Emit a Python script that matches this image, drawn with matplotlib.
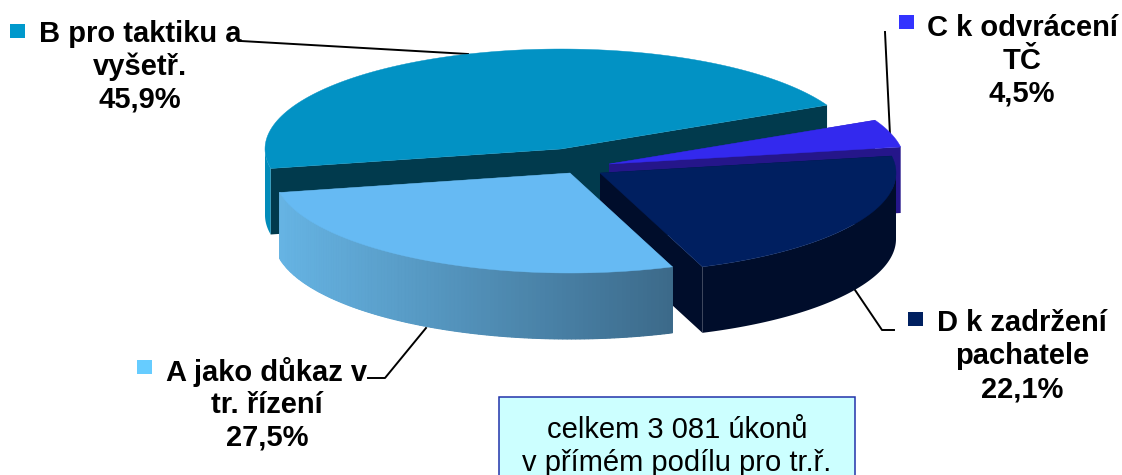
import numpy as np
import matplotlib
matplotlib.use("Agg")
import matplotlib.pyplot as plt
from matplotlib.patches import Polygon, Rectangle
from matplotlib.colors import to_rgb

# data
categories = ["B", "A", "D", "C"]
values = [45.9, 27.5, 22.1, 4.5]
label_lines = [
    ["B pro taktiku a", "vyšetř.", "45,9%"],
    ["A jako důkaz v", "tr. řízení", "27,5%"],
    ["D k zadržení", "pachatele", "22,1%"],
    ["C k odvrácení", "TČ", "4,5%"],
]
note_lines = ["celkem 3 081 úkonů", "v přímém podílu pro tr.ř."]

# style and layout
top_colors = ["#0292c4", "#66baf3", "#001f60", "#3329ee"]
wall_colors = ["#013a4d", "#3f6f8e", "#000d2b", "#25168a"]
side_from = ["#028cba", "#66b4e4", "#000d2b", "#25168a"]
side_to = ["#028cba", "#3c6a8a", "#000d2b", "#25168a"]
legend_colors = ["#0099cc", "#66ccff", "#002060", "#3333ff"]
apexes = [(561, 149), (570, 173), (600, 173), (609, 164)]
label_pos = [(140, 34), (267, 372), (1022, 323), (1022, 28)]
legend_pos = [(10, 24), (137, 360), (908, 312), (899, 15)]
leaders = [
    [(241, 41), (468, 54)],
    [(368, 378), (385, 378), (426, 328)],
    [(855, 290), (882, 330), (894, 330)],
    [(885, 32), (890, 135)],
]
A_RX, A_RY, DEPTH, START = 296, 100, 66, 26.0
LINE_STEP = 33

fig = plt.figure(figsize=(11.22, 4.75), dpi=100)
ax = fig.add_axes([0, 0, 1, 1])
ax.set_xlim(0, 1122)
ax.set_ylim(475, 0)
ax.axis("off")


def arc(apex, t0, t1, n=120):
    t = np.radians(np.linspace(t0, t1, n))
    return np.column_stack([apex[0] + A_RX * np.cos(t), apex[1] - A_RY * np.sin(t)])


def mix(c0, c1, f):
    a, b = np.array(to_rgb(c0)), np.array(to_rgb(c1))
    return tuple(a + (b - a) * f)


spans = np.array(values) / sum(values) * 360
starts = START + np.concatenate([[0], np.cumsum(spans)[:-1]])


def draw_wedge(i, z):
    apex, t0, t1 = apexes[i], starts[i], starts[i] + spans[i]
    pts = arc(apex, t0, t1)
    down = np.array([0, DEPTH])
    ap = np.array(apex, float)
    # inner walls (behind the outer side)
    for e in (pts[0], pts[-1]):
        ax.add_patch(Polygon([ap, e, e + down, ap + down], closed=True,
                             fc=wall_colors[i], ec="none", zorder=z))
    # outer side: only the part of the rim that faces the viewer
    v0, v1 = max(t0, 180.0), min(t1, 360.0)
    if v1 > v0:
        rim = arc(apex, v0, v1)
        outline = np.vstack([rim, (rim + down)[::-1]])
        ax.add_patch(Polygon(outline, closed=True, fc=mix(side_from[i], side_to[i], 0.5),
                             ec="none", zorder=z + 0.1))
        if side_from[i] != side_to[i]:
            xmin, xmax = rim[:, 0].min(), rim[:, 0].max()
            for k in range(len(rim) - 1):
                f = ((rim[k, 0] + rim[k + 1, 0]) / 2 - xmin) / max(xmax - xmin, 1)
                c = mix(side_from[i], side_to[i], f)
                ax.add_patch(Polygon([rim[k], rim[k + 1], rim[k + 1] + down, rim[k] + down],
                                     closed=True, fc=c, ec=c, lw=0.8, zorder=z + 0.15))
    # top
    ax.add_patch(Polygon(np.vstack([ap, pts]), closed=True, fc=top_colors[i],
                         ec=top_colors[i], lw=0.3, zorder=z + 0.2))


for z, i in enumerate([0, 3, 2, 1]):
    draw_wedge(i, 2 + z)

for pts in leaders:
    xy = np.array(pts)
    ax.plot(xy[:, 0], xy[:, 1], color="black", lw=1.4, zorder=1)

font = ["Liberation Sans", "DejaVu Sans"]
for lines, (x, y), (lx, ly), c in zip(label_lines, label_pos, legend_pos, legend_colors):
    ax.add_patch(Rectangle((lx, ly), 15, 14, fc=c, ec="none", zorder=8))
    for j, s in enumerate(lines):
        ax.text(x, y + j * LINE_STEP, s, ha="center", va="center", fontsize=21,
                fontweight="bold", family=font, color="black", zorder=8)

ax.add_patch(Rectangle((499, 397), 356, 100, fc="#ccffff", ec="#2233aa", lw=1.1, zorder=7))
for j, s in enumerate(note_lines):
    ax.text(677, 430 + j * 33, s, ha="center", va="center", fontsize=21,
            family=font, color="black", zorder=8)

fig.savefig("out.png", dpi=100)
